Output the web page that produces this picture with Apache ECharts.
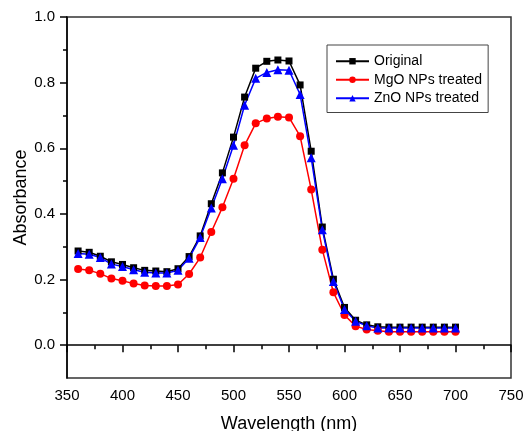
<!DOCTYPE html>
<html>
<head>
<meta charset="utf-8">
<script src="https://cdn.jsdelivr.net/npm/echarts@6/dist/echarts.min.js"></script>
<style>html,body{margin:0;padding:0;background:#fff;}#c{width:525px;height:431px;}</style>
</head>
<body>
<div id="c"></div>
<script>
var wavelengths = [360,370,380,390,400,410,420,430,440,450,460,470,480,490,500,510,520,530,540,550,560,570,580,590,600,610,620,630,640,650,660,670,680,690,700];
var original = [0.287,0.283,0.271,0.254,0.246,0.236,0.228,0.226,0.224,0.233,0.270,0.333,0.431,0.525,0.634,0.756,0.844,0.865,0.869,0.866,0.793,0.591,0.360,0.201,0.115,0.076,0.062,0.056,0.055,0.055,0.055,0.055,0.055,0.055,0.055];
var mgo = [0.232,0.228,0.218,0.203,0.196,0.188,0.182,0.180,0.180,0.185,0.217,0.267,0.345,0.420,0.507,0.609,0.676,0.691,0.696,0.694,0.637,0.474,0.291,0.161,0.092,0.058,0.048,0.044,0.041,0.041,0.041,0.041,0.041,0.041,0.041];
var zno = [0.279,0.277,0.267,0.247,0.240,0.230,0.222,0.220,0.220,0.228,0.265,0.328,0.418,0.507,0.609,0.731,0.813,0.831,0.839,0.838,0.764,0.571,0.352,0.194,0.109,0.073,0.059,0.052,0.052,0.052,0.052,0.052,0.052,0.052,0.052];
var yMajorTicks = [0.0,0.2,0.4,0.6,0.8,1.0];
var yMinorTicks = [0.1,0.3,0.5,0.7,0.9];
var seriesNames = ['Original','MgO NPs treated','ZnO NPs treated'];

function pairs(ys){ return wavelengths.map(function(x,i){ return [x, ys[i]]; }); }
var FONT = '"Liberation Sans", Arial, sans-serif';
var chart = echarts.init(document.getElementById('c'), null, {renderer:'canvas'});
var axisLine = {lineStyle:{color:'#000', width:1.5}};
chart.setOption({
  animation:false,
  backgroundColor:'#fff',
  grid:{left:67, right:14, top:17, bottom:53, outerBoundsMode:'none', containLabel:false,
    show:true, borderColor:'#333', borderWidth:1.5},
  legend:{
    orient:'vertical', left:327, top:45,
    padding:[9,6,7,8], itemGap:4, itemWidth:33, itemHeight:8,
    borderColor:'#444', borderWidth:1, backgroundColor:'#fff',
    textStyle:{fontFamily:FONT, fontSize:14, color:'#000', lineHeight:14.5},
    data:seriesNames
  },
  xAxis:{
    type:'value', min:350, max:750, interval:50,
    name:'Wavelength (nm)', nameLocation:'middle', nameGap:37, nameMoveOverlap:false,
    nameTextStyle:{fontFamily:FONT, fontSize:18, color:'#000'},
    axisLine:axisLine,
    axisTick:{show:true, inside:false, length:7, lineStyle:{color:'#000', width:1.5}},
    minorTick:{show:true, splitNumber:2, length:4, lineStyle:{color:'#000', width:1.5}},
    axisLabel:{fontFamily:FONT, fontSize:15, color:'#000', margin:10},
    splitLine:{show:false}
  },
  yAxis:[{
    type:'value', min:-0.1, max:1.0,
    name:'Absorbance', nameLocation:'middle', nameGap:37, nameMoveOverlap:false,
    nameTextStyle:{fontFamily:FONT, fontSize:18, color:'#000'},
    axisLine:axisLine,
    axisTick:{show:true, inside:false, length:7, customValues:yMajorTicks, lineStyle:{color:'#000', width:1.5}},
    axisLabel:{fontFamily:FONT, fontSize:15, color:'#000', margin:12, customValues:yMajorTicks,
      formatter:function(v){ return v.toFixed(1); }},
    splitLine:{show:false}
  },{
    type:'value', min:-0.1, max:1.0, position:'left',
    axisLine:{show:false},
    axisTick:{show:true, inside:false, length:4, customValues:yMinorTicks, lineStyle:{color:'#000', width:1.5}},
    axisLabel:{show:false},
    splitLine:{show:false}
  }],
  series:[
    {name:seriesNames[0], type:'line', data:pairs(original), symbol:'rect', symbolSize:7,
      lineStyle:{color:'#000', width:1.5}, itemStyle:{color:'#000'}},
    {name:seriesNames[1], type:'line', data:pairs(mgo), symbol:'circle', symbolSize:8,
      lineStyle:{color:'#ff0000', width:1.5}, itemStyle:{color:'#ff0000'}},
    {name:seriesNames[2], type:'line', data:pairs(zno), symbol:'triangle', symbolSize:9,
      lineStyle:{color:'#0000ff', width:1.5}, itemStyle:{color:'#0000ff'}}
  ]
});
</script>
</body>
</html>
